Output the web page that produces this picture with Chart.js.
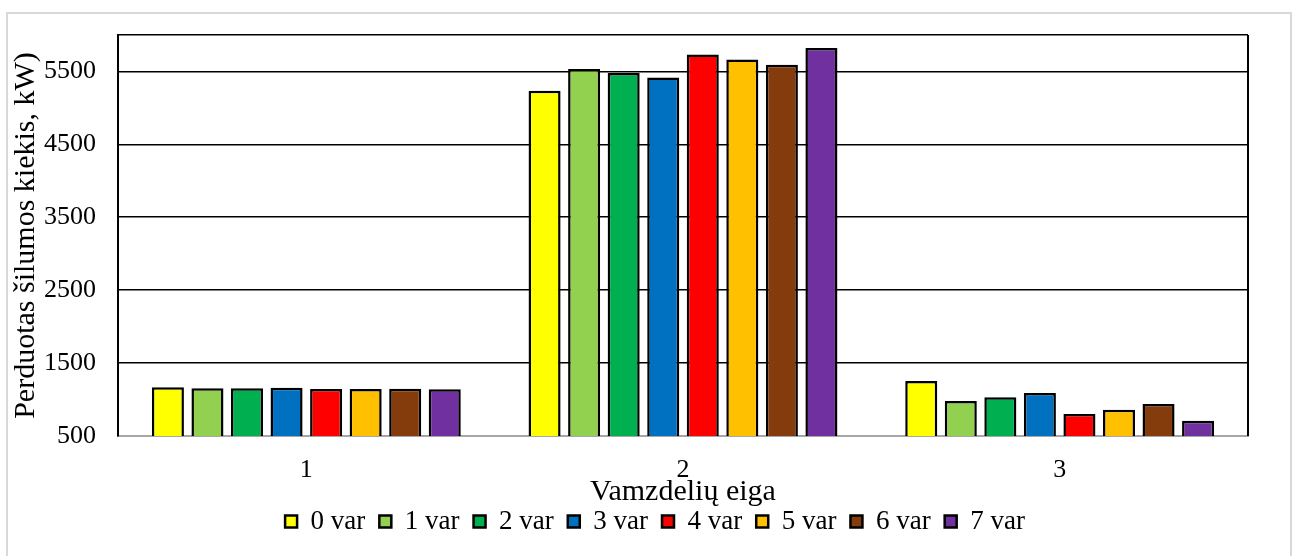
<!DOCTYPE html>
<html>
<head>
<meta charset="utf-8">
<script src="https://cdn.jsdelivr.net/npm/chart.js@4"></script>
<style>
  html, body { margin: 0; padding: 0; background: #fff; }
  canvas { display: block; }
</style>
</head>
<body>
<canvas id="heat-chart" width="1298" height="556"></canvas>
<script>
// Categories and variants
const categories = ['1', '2', '3'];
const variants = ['0 var', '1 var', '2 var', '3 var', '4 var', '5 var', '6 var', '7 var'];
const variantColors = ['#FFFF00', '#92D050', '#00B050', '#0070C0', '#FF0000', '#FFC000', '#843C0C', '#7030A0'];

// Transferred heat per variant, one value per category (kW)
const var0 = [1170, 5235, 1255];
const var1 = [1155, 5533, 981];
const var2 = [1155, 5478, 1032];
const var3 = [1162, 5418, 1091];
const var4 = [1146, 5734, 802];
const var5 = [1146, 5665, 861];
const var6 = [1147, 5592, 940];
const var7 = [1141, 5821, 710];
const seriesValues = [var0, var1, var2, var3, var4, var5, var6, var7];

// Y axis ticks, top one is just the frame line
const yTicks = [500, 1500, 2500, 3500, 4500, 5500, 6000];
const yTickLabels = ['500', '1500', '2500', '3500', '4500', '5500', ''];

const serif = "'Liberation Serif', 'Times New Roman', serif";

// light grey outer frame, black plot frame on the right,
// and legend nudged so it sits centred under the plot
const framePlugin = {
  id: 'frame',
  afterLayout(chart) {
    chart.legend.left = 62;
  },
  beforeDraw(chart) {
    const ctx = chart.ctx;
    ctx.save();
    ctx.strokeStyle = '#d9d9d9';
    ctx.lineWidth = 2;
    ctx.strokeRect(7, 13, 1284, 580);
    ctx.restore();
  },
  afterDraw(chart) {
    const { ctx, chartArea } = chart;
    ctx.save();
    ctx.strokeStyle = '#000';
    ctx.lineWidth = 2;
    ctx.beginPath();
    ctx.moveTo(chartArea.right, chartArea.top);
    ctx.lineTo(chartArea.right, chartArea.bottom);
    ctx.stroke();
    ctx.restore();
  }
};

const ctx = document.getElementById('heat-chart').getContext('2d');
const heatChart = new Chart(ctx, {
  type: 'bar',
  data: {
    labels: categories,
    datasets: variants.map((name, i) => ({
      label: name,
      data: seriesValues[i],
      backgroundColor: variantColors[i],
      borderColor: '#000',
      borderWidth: 2.5,
      borderSkipped: false,
      categoryPercentage: 0.84,
      barPercentage: 0.81
    }))
  },
  options: {
    responsive: false,
    animation: false,
    layout: { padding: { left: 0, right: 50, top: 35, bottom: 11 } },
    plugins: {
      tooltip: { enabled: false },
      legend: {
        position: 'bottom',
        labels: {
          font: { family: serif, size: 27 },
          color: '#000',
          boxWidth: 12,
          boxHeight: 12,
          padding: 14
        }
      }
    },
    scales: {
      x: {
        grid: { display: false, drawTicks: false },
        border: { color: '#a6a6a6', width: 2 },
        ticks: { font: { family: serif, size: 26 }, color: '#000', padding: 19 },
        title: {
          display: true,
          text: 'Vamzdelių eiga',
          font: { family: serif, size: 30, lineHeight: 1 },
          color: '#000',
          padding: { top: 0, bottom: -13 }
        },
        afterFit(scale) { scale.height = 58; }
      },
      y: {
        min: 500,
        max: 6000,
        grid: { color: '#000', lineWidth: 1.6, drawTicks: false },
        border: { color: '#000', width: 2 },
        afterBuildTicks(scale) {
          scale.ticks = yTicks.map(v => ({ value: v }));
        },
        ticks: {
          font: { family: serif, size: 26, lineHeight: 0.8 },
          color: '#000',
          padding: 22,
          callback: (value) => yTickLabels[yTicks.indexOf(value)]
        },
        title: {
          display: true,
          text: 'Perduotas šilumos kiekis, kW)',
          font: { family: serif, size: 30 },
          color: '#000',
          padding: { top: 8, bottom: 0 }
        },
        afterFit(scale) { scale.width = 118; }
      }
    }
  },
  plugins: [framePlugin]
});
</script>
</body>
</html>
